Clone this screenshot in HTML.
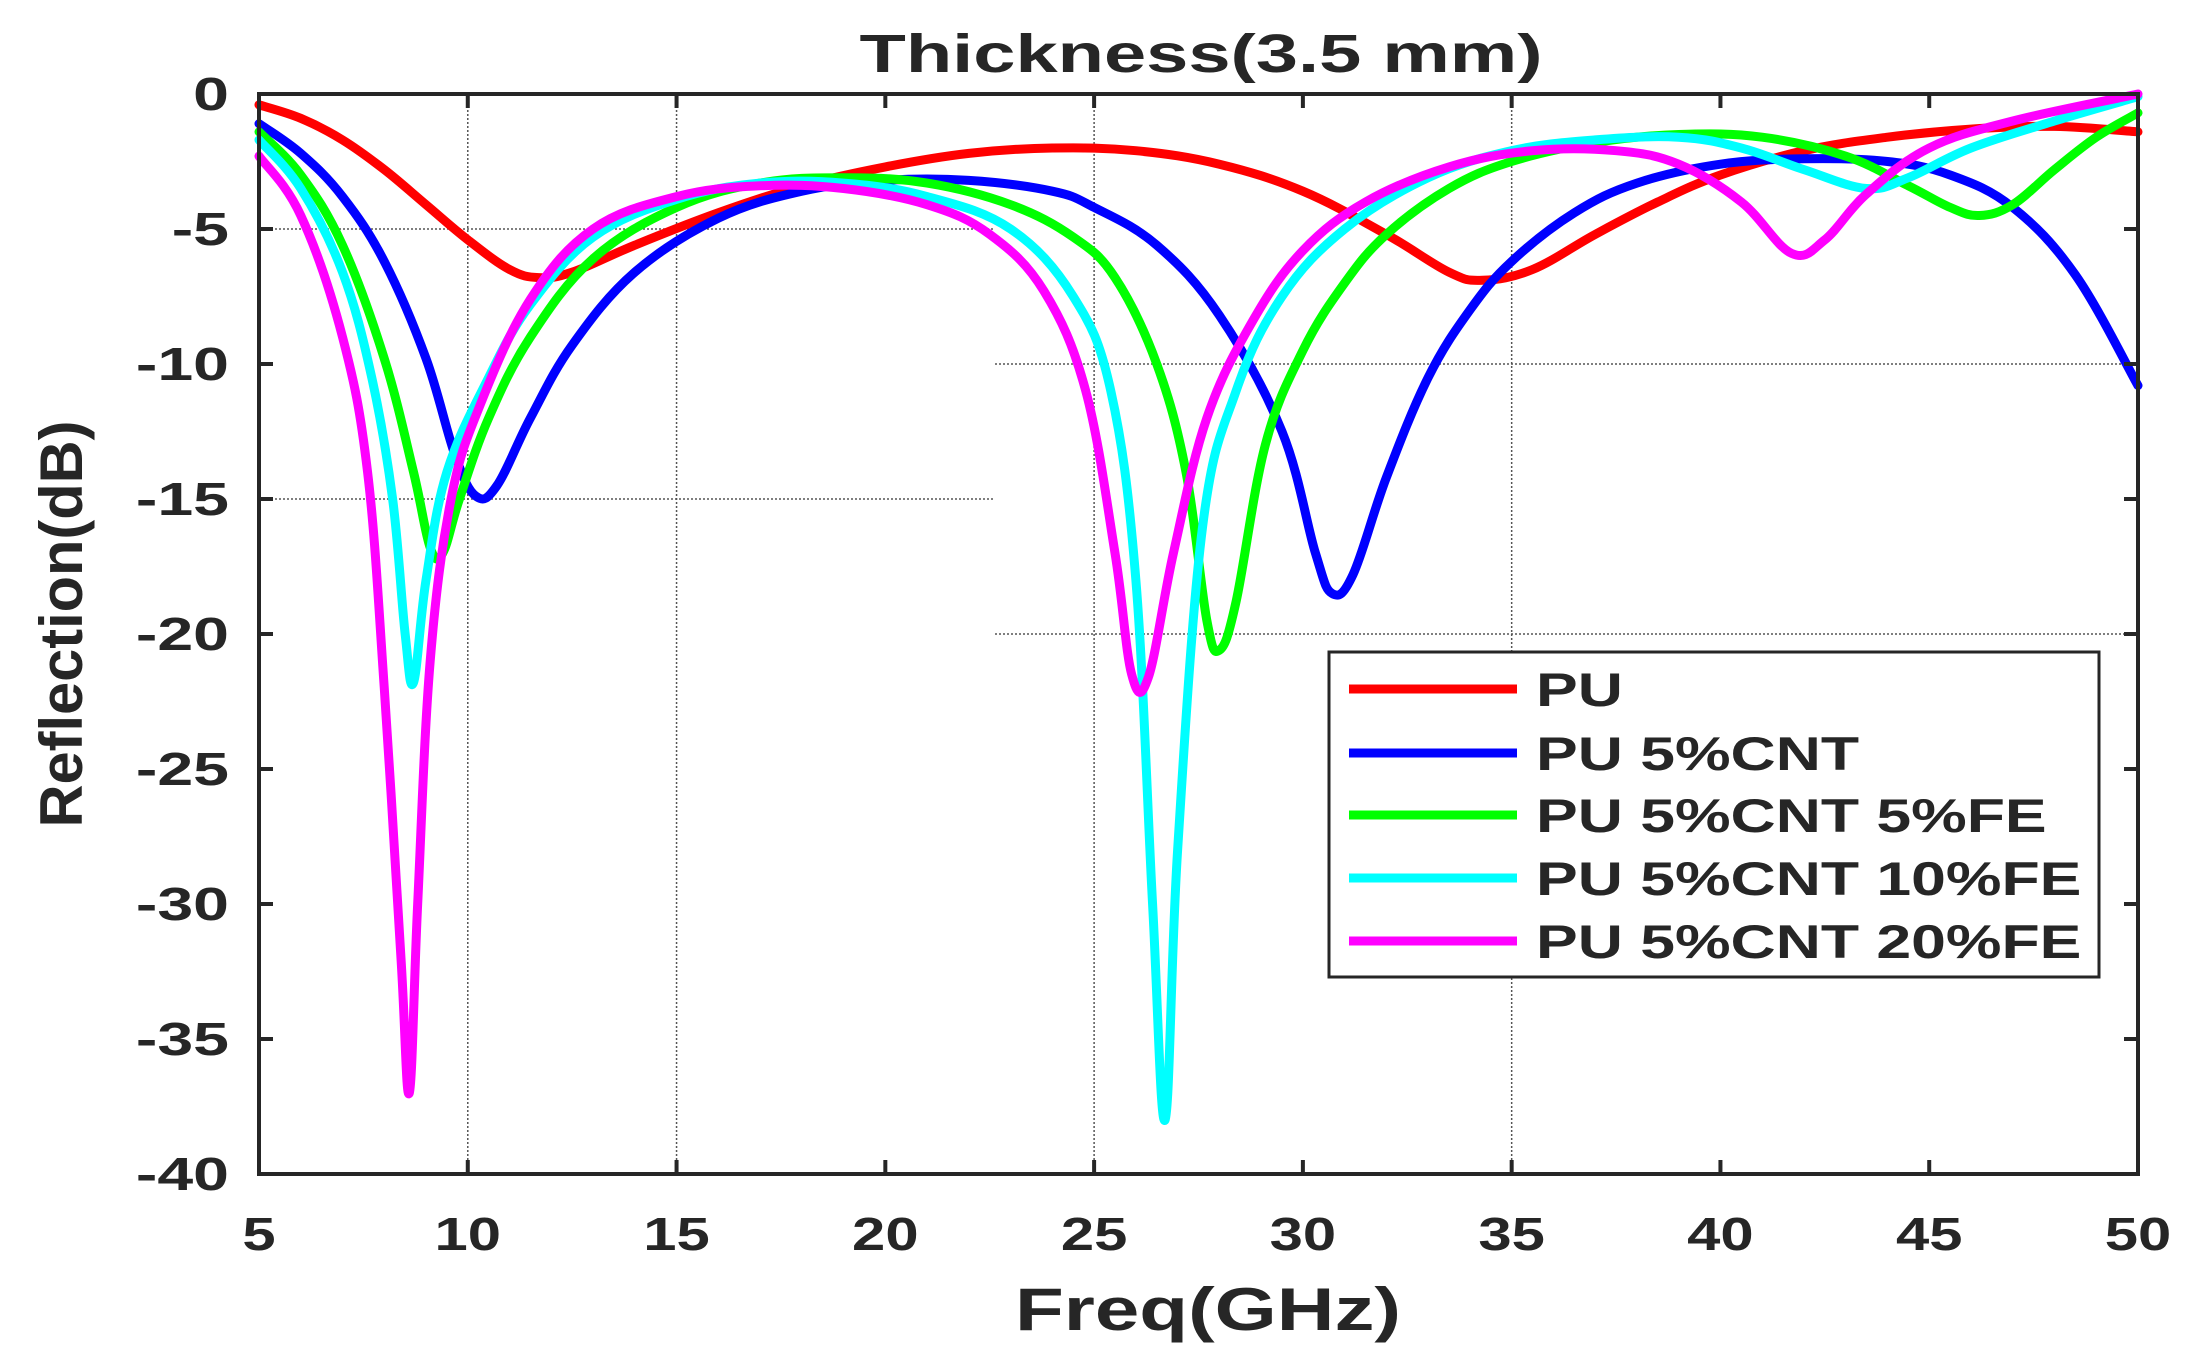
<!DOCTYPE html>
<html><head><meta charset="utf-8"><style>
html,body{margin:0;padding:0;background:#fff;}
svg text{font-family:"Liberation Sans",Arial,sans-serif;font-weight:bold;fill:#262626;}
</style></head><body>
<svg id="s" width="2197" height="1360" viewBox="0 0 2197 1360" xmlns="http://www.w3.org/2000/svg">
<g id="grid" stroke="#555" stroke-width="1.5" stroke-dasharray="2,2"></g>
<g id="curves" fill="none" stroke-width="9" stroke-linejoin="round" stroke-linecap="round"></g>
<g id="axes"></g>
<text x="1201" y="72" font-size="54" text-anchor="middle" textLength="683" lengthAdjust="spacingAndGlyphs">Thickness(3.5 mm)</text>
<text x="1208" y="1330" font-size="60" text-anchor="middle" textLength="386" lengthAdjust="spacingAndGlyphs">Freq(GHz)</text>
<text transform="translate(82,624) rotate(-90)" font-size="60" text-anchor="middle" textLength="407" lengthAdjust="spacingAndGlyphs">Reflection(dB)</text>
<g id="legend"></g>
</svg>
<script>
var L=259,R=2138,T=94,B=1174;
function X(f){return L+(f-5)*(R-L)/45;}
function Y(d){return T-d*(B-T)/40;}
var ns="http://www.w3.org/2000/svg";
function el(p,t,a){var e=document.createElementNS(ns,t);for(var k in a)e.setAttribute(k,a[k]);p.appendChild(e);return e;}
function widen(t,f){var w=t.getComputedTextLength();t.setAttribute('textLength',w*f);t.setAttribute('lengthAdjust','spacingAndGlyphs');}
var g=document.getElementById('grid');
[10,15,25,35].forEach(function(f){el(g,'line',{x1:X(f),x2:X(f),y1:T,y2:B});});
el(g,'line',{x1:L,x2:995,y1:Y(-5),y2:Y(-5)});
el(g,'line',{x1:L,x2:995,y1:Y(-15),y2:Y(-15)});
el(g,'line',{x1:995,x2:R,y1:Y(-10),y2:Y(-10)});
el(g,'line',{x1:995,x2:R,y1:Y(-20),y2:Y(-20)});
var data={
'#ff0000':[[5,-0.4],[6,-0.9],[7,-1.7],[8,-2.8],[9,-4.1],[10,-5.4],[11,-6.5],[11.7,-6.8],[12.5,-6.6],[14,-5.6],[16,-4.4],[18,-3.4],[20,-2.7],[22,-2.2],[24,-2.0],[26,-2.1],[28,-2.6],[30,-3.6],[32,-5.2],[33.5,-6.6],[34.3,-6.9],[35.5,-6.5],[37,-5.2],[38.5,-4.0],[40,-3.0],[42,-2.1],[44,-1.6],[46,-1.3],[48,-1.2],[50,-1.4]],
'#0000ff':[[5,-1.1],[6,-2.2],[7,-3.8],[8,-6.2],[9,-9.8],[9.7,-13.4],[10.2,-14.9],[10.7,-14.5],[11.5,-12],[12.5,-9.3],[14,-6.6],[16,-4.6],[18,-3.6],[20,-3.2],[22,-3.2],[24,-3.6],[25,-4.2],[26.5,-5.6],[28,-8.2],[29.5,-12.5],[30.3,-17],[30.7,-18.5],[31.2,-17.8],[32,-14.2],[33,-10.5],[34,-8],[35,-6.2],[36.5,-4.4],[38,-3.3],[40,-2.6],[42,-2.4],[44,-2.5],[45.5,-3],[47,-4.2],[48.5,-6.7],[50,-10.8]],
'#00ff00':[[5,-1.4],[6,-3],[7,-5.6],[8,-9.8],[8.7,-14],[9.1,-16.8],[9.4,-17],[9.8,-15],[10.5,-12],[11.5,-9],[13,-6.1],[15,-4.2],[17,-3.3],[19,-3.1],[21,-3.3],[23,-4.1],[24.5,-5.3],[25.5,-6.8],[26.5,-10],[27.2,-14],[27.7,-19.5],[28,-20.6],[28.4,-18.8],[29.1,-13],[30,-9.5],[31,-7],[32,-5.2],[33.5,-3.5],[35,-2.5],[37,-1.8],[39,-1.5],[41,-1.6],[43,-2.3],[44.5,-3.4],[45.5,-4.2],[46.2,-4.5],[47,-4.1],[48,-2.8],[49,-1.6],[50,-0.7]],
'#00ffff':[[5,-1.7],[6,-3.5],[7,-6.6],[7.7,-10.5],[8.2,-15],[8.5,-20],[8.7,-21.8],[9,-18],[9.5,-14],[10.5,-10.5],[11.5,-7.8],[13,-5.3],[15,-3.9],[17,-3.3],[19,-3.3],[21,-3.8],[23,-5],[24.5,-7.5],[25.4,-11],[26,-18],[26.4,-30],[26.7,-38],[27,-28],[27.6,-16],[28.4,-11],[29.5,-7.5],[31,-5],[33,-3.1],[35,-2.1],[37,-1.7],[39,-1.6],[40.5,-2],[42,-2.8],[43.5,-3.5],[44.5,-3.1],[46,-2],[48,-1],[50,-0.1]],
'#ff00ff':[[5,-2.3],[6,-4.5],[7,-9],[7.6,-14],[8.0,-22],[8.4,-32],[8.6,-37],[8.8,-30],[9.1,-21],[9.6,-15],[10.3,-11.5],[11.5,-7.6],[13,-5],[15,-3.8],[17,-3.4],[19,-3.5],[21,-4.1],[22.5,-5.2],[23.8,-7.3],[24.8,-11],[25.5,-17],[25.9,-21.5],[26.3,-21.6],[26.9,-17],[27.7,-12],[28.8,-8.4],[30,-5.8],[31.5,-4],[33.5,-2.7],[35.5,-2.1],[37.5,-2.1],[39,-2.6],[40.5,-4],[41.7,-5.9],[42.5,-5.4],[43.5,-3.7],[45,-2],[47,-1],[50,0]]};
var cg=document.getElementById('curves');
for(var c in data){var p=data[c].map(function(q){return [X(q[0]),Y(q[1])];});
 var d='M'+p[0][0]+','+p[0][1];
 for(var i=0;i<p.length-1;i++){var p0=p[Math.max(0,i-1)],p1=p[i],p2=p[i+1],p3=p[Math.min(p.length-1,i+2)];var k=0.18;
  d+=' C'+(p1[0]+(p2[0]-p0[0])*k)+','+(p1[1]+(p2[1]-p0[1])*k)+' '+(p2[0]-(p3[0]-p1[0])*k)+','+(p2[1]-(p3[1]-p1[1])*k)+' '+p2[0]+','+p2[1];}
 el(cg,'path',{d:d,stroke:c});}
var a=document.getElementById('axes');
el(a,'rect',{x:L,y:T,width:R-L,height:B-T,fill:'none',stroke:'#262626','stroke-width':4});
for(var f=5;f<=50;f+=5){el(a,'line',{x1:X(f),x2:X(f),y1:B,y2:B-14,stroke:'#262626','stroke-width':4});el(a,'line',{x1:X(f),x2:X(f),y1:T,y2:T+14,stroke:'#262626','stroke-width':4});
 var t=el(a,'text',{x:X(f),y:1250,'font-size':46,'text-anchor':'middle'});t.textContent=f;widen(t,1.3);}
for(var v=0;v>=-40;v-=5){el(a,'line',{x1:L,x2:L+14,y1:Y(v),y2:Y(v),stroke:'#262626','stroke-width':4});el(a,'line',{x1:R,x2:R-14,y1:Y(v),y2:Y(v),stroke:'#262626','stroke-width':4});
 var t=el(a,'text',{x:229,y:Y(v)+16,'font-size':46,'text-anchor':'end'});t.textContent=v;widen(t,1.4);}
var lg=document.getElementById('legend');
el(lg,'rect',{x:1329,y:652,width:770,height:325,fill:'#fff',stroke:'#262626','stroke-width':3});
var names=['PU','PU 5%CNT','PU 5%CNT 5%FE','PU 5%CNT 10%FE','PU 5%CNT 20%FE'],cols=['#ff0000','#0000ff','#00ff00','#00ffff','#ff00ff'],ys=[689,753,815,878,941];
for(var i=0;i<5;i++){el(lg,'line',{x1:1349,x2:1517,y1:ys[i],y2:ys[i],stroke:cols[i],'stroke-width':9});
 var t=el(lg,'text',{x:1536,y:ys[i]+17,'font-size':47});t.textContent=names[i];widen(t,1.33);}
</script>
</body></html>
